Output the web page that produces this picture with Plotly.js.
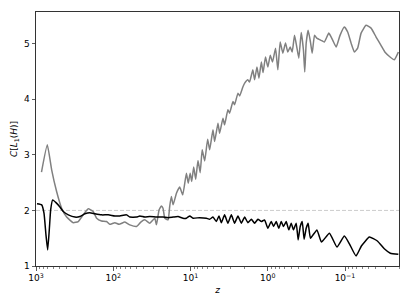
<!DOCTYPE html>
<html>
<head>
<meta charset="utf-8">
<script src="https://cdn.plot.ly/plotly-3.0.1.min.js"></script>
<style>html,body{margin:0;padding:0;background:#fff;}#chart{width:411px;height:308px;}</style>
</head>
<body>
<div id="chart"></div>
<script>
// gray series
const zGray = [849,714,627,541,466,401,330,284,245,211,182,164,142,122,111,95.3,83.9,70.8,61.0,50.0,44.0,39.1,33.7,29.0,27.6,25.5,23.8,22.7,21.5,19.5,18.6,17.7,16.8,15.2,13.8,12.6,11.3,10.7,10.1,9.65,9.09,8.57,8.00,7.49,7.06,6.55,6.00,5.65,5.12,4.87,4.41,4.20,3.80,3.62,3.28,3.12,2.82,2.69,2.43,2.31,2.10,1.99,1.81,1.72,1.56,1.48,1.38,1.30,1.21,1.15,1.07,0.997,0.928,0.867,0.793,0.740,0.690,0.638,0.589,0.550,0.512,0.483,0.450,0.421,0.396,0.369,0.345,0.332,0.318,0.300,0.280,0.266,0.248,0.232,0.204,0.185,0.162,0.144,0.130,0.116,0.102,0.0923,0.0834,0.0756,0.0686,0.0619,0.0534,0.0460,0.0396,0.0342,0.0301,0.0261,0.0230,0.0204];
const cGray = [2.69,3.18,2.73,2.34,2.04,1.88,1.78,1.80,1.92,2.03,1.98,1.86,1.81,1.80,1.75,1.78,1.75,1.79,1.74,1.71,1.79,1.83,1.77,1.86,1.74,2.01,2.08,2.04,1.86,1.83,2.07,2.25,2.10,2.31,2.42,2.28,2.67,2.49,2.67,2.52,2.78,2.56,2.90,2.68,3.09,2.89,3.28,3.09,3.45,3.24,3.57,3.39,3.66,3.54,3.81,3.75,3.96,3.90,4.11,4.06,4.22,4.29,4.35,4.31,4.53,4.35,4.58,4.38,4.67,4.48,4.76,4.58,4.79,4.67,4.92,4.53,5.03,4.83,5.01,4.85,4.94,4.85,5.15,4.94,4.74,5.20,4.88,4.49,5.01,5.24,5.03,4.83,5.15,5.10,5.06,5.03,5.19,5.06,4.94,5.15,5.30,5.21,5.01,4.85,4.92,5.19,5.33,5.28,5.12,4.97,4.84,4.76,4.71,4.85];
// black series
const zBlack = [971,844,788,743,706,673,646,608,551,490,444,382,313,270,233,201,173,142,116,95.3,82.2,67.3,61.0,50.0,45.3,39.1,33.7,27.6,22.7,19.5,16.8,14.5,12.5,11.3,10.2,9.28,7.61,6.23,5.65,5.12,4.63,4.28,3.99,3.62,3.28,2.96,2.69,2.43,2.20,1.99,1.81,1.63,1.48,1.34,1.21,1.10,0.997,0.901,0.841,0.777,0.719,0.669,0.625,0.577,0.534,0.497,0.464,0.428,0.404,0.380,0.358,0.338,0.318,0.300,0.280,0.231,0.202,0.159,0.127,0.102,0.0877,0.0719,0.0614,0.0484,0.0381,0.0310,0.0259,0.0204];
const cBlack = [2.12,2.10,1.95,1.56,1.29,1.65,2.01,2.19,2.14,2.06,1.98,1.92,1.88,1.89,1.94,1.96,1.94,1.92,1.92,1.90,1.90,1.92,1.88,1.88,1.90,1.88,1.89,1.88,1.88,1.87,1.88,1.89,1.86,1.86,1.90,1.86,1.87,1.86,1.84,1.88,1.80,1.90,1.78,1.92,1.77,1.92,1.77,1.90,1.77,1.88,1.78,1.84,1.77,1.84,1.80,1.83,1.68,1.80,1.71,1.80,1.68,1.80,1.71,1.80,1.65,1.77,1.65,1.77,1.47,1.71,1.80,1.48,1.68,1.77,1.50,1.65,1.43,1.59,1.34,1.54,1.40,1.18,1.36,1.52,1.45,1.31,1.23,1.21];
const refLevel = 2;
const xTickVals = [1000, 100, 10, 1, 0.1];
const xTickText = ['10<sup>3</sup>', '10<sup>2</sup>', '10<sup>1</sup>', '10<sup>0</sup>', '10<sup>\u22121</sup>'];
const xTitle = '<i>z</i>';
const yTitle = '<i>C</i>[<i>L</i><sub>1</sub>(<i>H</i>)]';

// minor tick positions of the log axis (2..9 in each decade)
const minorVals = [];
[0.01, 0.1, 1, 10, 100].forEach(function (dec) {
  for (let k = 2; k <= 9; k++) minorVals.push(+(k * dec).toPrecision(3));
});

const font = {family: 'DejaVu Sans', size: 9, color: '#000'};
const traces = [
  {x: zGray, y: cGray, type: 'scatter', mode: 'lines', line: {color: '#808080', width: 1.5, shape: 'spline', smoothing: 0.4}, hoverinfo: 'skip'},
  {x: zBlack, y: cBlack, type: 'scatter', mode: 'lines', line: {color: '#000000', width: 1.5, shape: 'spline', smoothing: 0.4}, hoverinfo: 'skip'}
];
const axisCommon = {showline: true, linecolor: '#333', linewidth: 1, mirror: true, ticks: 'outside', ticklen: 3.5, tickwidth: 0.8, tickcolor: '#333', showgrid: false, zeroline: false, tickfont: font};
const layout = {
  width: 411, height: 308,
  margin: {l: 36, r: 12, t: 12, b: 42},
  paper_bgcolor: '#fff', plot_bgcolor: '#fff',
  showlegend: false,
  font: font,
  xaxis: Object.assign({}, axisCommon, {
    type: 'log', range: [3, Math.log10(0.02)], tickmode: 'array', tickvals: xTickVals, ticktext: xTickText,
    minor: {ticks: 'outside', ticklen: 2, tickwidth: 0.6, tickcolor: '#333', tickmode: 'array', tickvals: minorVals, showgrid: false},
    title: {text: xTitle, font: {family: 'DejaVu Sans', size: 9}, standoff: 4}
  }),
  yaxis: Object.assign({}, axisCommon, {
    range: [1, 5.57], dtick: 1,
    title: {text: yTitle, font: {family: 'DejaVu Sans', size: 9}, standoff: 4}
  }),
  shapes: [{type: 'line', xref: 'paper', x0: 0, x1: 1, yref: 'y', y0: refLevel, y1: refLevel, line: {color: '#cccccc', width: 1, dash: '4px,2px'}, layer: 'below'}]
};
Plotly.newPlot('chart', traces, layout, {staticPlot: true, displayModeBar: false});
</script>
</body>
</html>
